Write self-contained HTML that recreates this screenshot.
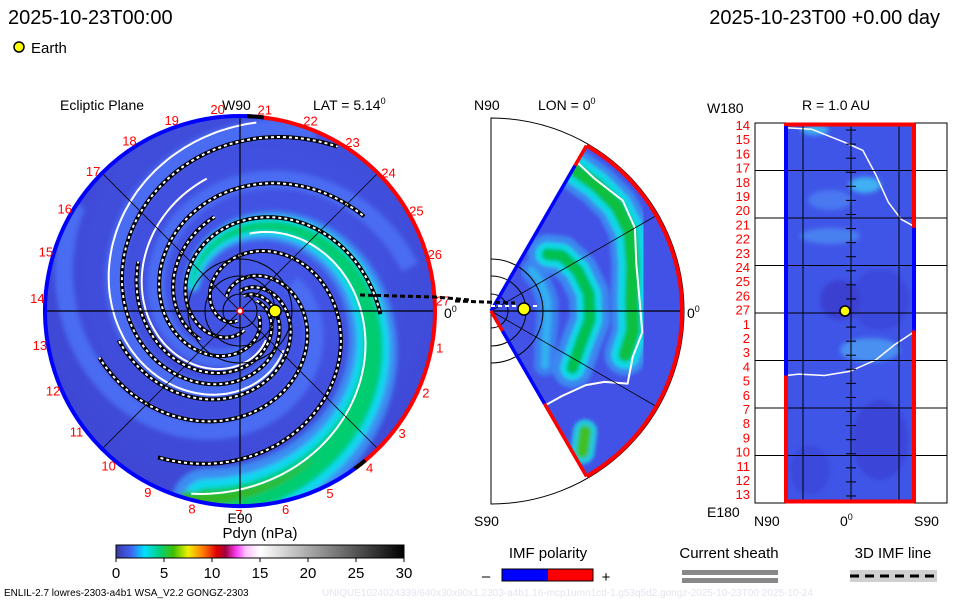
<!DOCTYPE html>
<html><head><meta charset="utf-8"><style>
html,body{margin:0;padding:0;background:#fff}
svg{display:block}
text{font-family:"Liberation Sans",sans-serif}
</style></head><body>
<svg id="s" width="960" height="600" viewBox="0 0 960 600" xmlns="http://www.w3.org/2000/svg">
<defs>
<clipPath id="diskClip"><circle cx="240" cy="311" r="195"/></clipPath>
<clipPath id="wedgeClip"><path d="M491,311 L586.5,145.6 A191,191 0 0 1 586.5,476.4 Z"/></clipPath>
<filter id="bl" x="-10%" y="-10%" width="120%" height="120%"><feGaussianBlur stdDeviation="2.5"/></filter>
<filter id="bl2" x="-10%" y="-10%" width="120%" height="120%"><feGaussianBlur stdDeviation="1.8"/></filter>
<linearGradient id="cbar" x1="0" x2="1" y1="0" y2="0">
<stop offset="0" stop-color="#3a3aa0"/><stop offset="0.05" stop-color="#4060f0"/><stop offset="0.1" stop-color="#00e0ff"/>
<stop offset="0.15" stop-color="#00d080"/><stop offset="0.2" stop-color="#40c000"/><stop offset="0.25" stop-color="#f0f000"/>
<stop offset="0.3" stop-color="#ff8000"/><stop offset="0.35" stop-color="#e00000"/><stop offset="0.38" stop-color="#a00040"/>
<stop offset="0.42" stop-color="#ff40ff"/><stop offset="0.45" stop-color="#ffc0ff"/><stop offset="0.5" stop-color="#ffffff"/>
<stop offset="1" stop-color="#000000"/></linearGradient>
<radialGradient id="diskBg" cx="0.55" cy="0.4" r="0.7"><stop offset="0" stop-color="#4458ea"/><stop offset="1" stop-color="#3d45d0"/></radialGradient>
</defs>

<text x="8" y="24" font-size="20">2025-10-23T00:00</text>
<text x="940" y="24" font-size="20" text-anchor="end">2025-10-23T00 +0.00 day</text>
<circle cx="19" cy="47" r="5" fill="#ffff00" stroke="#000" stroke-width="1.5"/>
<text x="31" y="53" font-size="15">Earth</text>

<text x="60" y="110" font-size="14">Ecliptic Plane</text>
<text x="222" y="110" font-size="14">W90</text>
<text x="313" y="110" font-size="14">LAT = 5.14<tspan font-size="9" dy="-6">0</tspan></text>
<text x="474" y="110" font-size="14">N90</text>
<text x="538" y="110" font-size="14">LON = 0<tspan font-size="9" dy="-6">0</tspan></text>
<text x="707" y="113" font-size="14">W180</text>
<text x="802" y="110" font-size="14">R = 1.0 AU</text>

<g id="disk">
<circle cx="240" cy="311" r="195" fill="url(#diskBg)"/>
<g id="diskBands" clip-path="url(#diskClip)" filter="url(#bl)"></g>
<g id="diskLines" clip-path="url(#diskClip)"></g>
</g>
<g id="wedge"></g>
<g id="rpanel"></g>
<g id="overlay"></g>

<text x="240" y="523" font-size="14" text-anchor="middle">E90</text>
<text x="474" y="526" font-size="14">S90</text>
<text x="707" y="517" font-size="14">E180</text>
<text x="754" y="526" font-size="14">N90</text>
<text x="840" y="526" font-size="14">0<tspan font-size="9" dy="-6">0</tspan></text>
<text x="914" y="526" font-size="14">S90</text>
<text x="444" y="318" font-size="14">0<tspan font-size="9" dy="-6">0</tspan></text>
<text x="687" y="318" font-size="14">0<tspan font-size="9" dy="-6">0</tspan></text>

<text x="260" y="538" font-size="15" text-anchor="middle">Pdyn (nPa)</text>
<rect x="116" y="545" width="288" height="13" fill="url(#cbar)" stroke="#000" stroke-width="1"/>
<g id="cbticks"></g>

<text x="548" y="558" font-size="15" text-anchor="middle">IMF polarity</text>
<text x="486" y="581" font-size="15" text-anchor="middle">–</text>
<rect x="502" y="569" width="46" height="12" fill="#0000ff"/>
<rect x="548" y="569" width="45" height="12" fill="#ff0000"/>
<rect x="502" y="569" width="91" height="12" fill="none" stroke="#000" stroke-width="1"/>
<text x="606" y="582" font-size="15" text-anchor="middle">+</text>
<text x="729" y="558" font-size="15" text-anchor="middle">Current sheath</text>
<rect x="682" y="570" width="96" height="5" fill="#888"/>
<rect x="682" y="578" width="96" height="5" fill="#888"/>
<text x="893" y="558" font-size="15" text-anchor="middle">3D IMF line</text>
<rect x="850" y="570" width="87" height="12" fill="#d0d0d0"/>
<line x1="850" y1="576" x2="937" y2="576" stroke="#000" stroke-width="3" stroke-dasharray="9,6"/>

<text x="4" y="596" font-size="10">ENLIL-2.7 lowres-2303-a4b1 WSA_V2.2 GONGZ-2303</text>
<text x="322" y="596" font-size="10" fill="#e4e4ee">UNIQUE1024024339/640x30x90x1.2303-a4b1.16-mcp1umn1cd-1.g53q5d2.gongz-2025-10-23T00   2025-10-24</text>
</svg>
<script>
// ---- data ----
const cbTicks = [0,5,10,15,20,25,30];
const rimLabels = [14,15,16,17,18,19,20,21,22,23,24,25,26,27,1,2,3,4,5,6,7,8,9,10,11,12,13];
const rimLabel27Angle = -3;
const rimStep = 360/27;
const imfArms = [[133,0.08,0.98],[206,0.1,0.80],[269,0.1,0.72],[57,0.1,0.76],[-15,0.05,0.86],[160,0.1,0.58],[100,0.1,0.64],[238,0.25,0.5]];
const sheathArms = [[110,0.3,0.97],[-60,0.4,0.97],[170,0.2,0.7]];
const greenArm = [-73,0.28,1.0];
const lightArms = [[120,0.3,1.0],[40,0.3,1.0],[200,0.2,0.9]];
const earthRho = 0.18;
const wedgeGreenA = [[-59,0.86],[-50,0.86],[-40,0.86],[-30,0.84],[-18,0.78],[-5,0.74],[8,0.75],[18,0.74]];
const wedgeGreenB = [[-45,0.42],[-38,0.47],[-25,0.5],[-10,0.52],[5,0.52],[20,0.5],[35,0.52]];
const wedgeCyanC = [[-45,0.3],[-30,0.3],[-10,0.3],[10,0.3],[30,0.33],[45,0.4]];
const wedgeSheath = [[-60,0.9],[-52,0.88],[-40,0.9],[-30,0.87],[-18,0.8],[-5,0.78],[8,0.8],[18,0.78],[28,0.81],[32,0.7],[38,0.63],[50,0.58],[60,0.57]];
const wedgeBlob = [[52,0.8],[57,0.88]];
const rpSheathTop = [[0,0.2],[0.2,0.3],[0.45,1.2],[0.6,1.8],[0.7,3.5],[0.8,5.5],[0.9,6.7],[1,7.2]];
const rpSheathBot = [[0,17.8],[0.1,17.7],[0.3,17.8],[0.5,17.5],[0.7,16.7],[0.85,15.6],[1,14.7]];
const rpRightBlue = [7.3,14.6];
const rpLeftBlue = [0,17.8];

const NS='http://www.w3.org/2000/svg';
function mk(tag, attrs, parent){const e=document.createElementNS(NS,tag);for(const k in attrs)e.setAttribute(k,attrs[k]);parent.appendChild(e);return e;}
const CX=240, CY=311, R=195;
function spiralPts(t0,r0,r1){const p=[];for(let r=r0;r<=r1+1e-9;r+=0.005){const th=(t0+533*Math.sqrt(r))*Math.PI/180;p.push([CX+R*r*Math.cos(th),CY+R*r*Math.sin(th)]);}return p;}
function pd(p){return 'M'+p.map(q=>q[0].toFixed(1)+','+q[1].toFixed(1)).join(' L');}

const bands=document.getElementById('diskBands');
lightArms.forEach(a=>{
  const p=mk('path',{d:pd(spiralPts(a[0],a[1],a[2])),fill:'none',stroke:'#4a6cf2','stroke-width':18},bands);
  
  
});
function varBand(arm,color,w0,w1,name){
  const pts=spiralPts(arm[0],arm[1],arm[2]);
  for(let i=0;i<pts.length-1;i++){
    const rho=arm[1]+(arm[2]-arm[1])*i/(pts.length-1);
    const w=w0+(w1-w0)*(rho-arm[1])/(arm[2]-arm[1]);
    const l=mk('line',{x1:pts[i][0],y1:pts[i][1],x2:pts[i+1][0],y2:pts[i+1][1],stroke:color,'stroke-width':w,'stroke-linecap':'round'},bands);
    
    
  }
}
varBand(greenArm,'#3c8cf2',16,70,'density-band-outer');
varBand(greenArm,'#10d8f0',10,48,'density-band-cyan');
varBand(greenArm,'#00cc70',3,30,'density-band-green');
varBand([greenArm[0]+6,0.85,1.0],'#30b820',2,14,'density-band-peak');

const dl=document.getElementById('diskLines');
sheathArms.forEach(a=>{
  const p=mk('path',{d:pd(spiralPts(a[0],a[1],a[2])),fill:'none',stroke:'#fff','stroke-width':2},dl);
  
  
});
imfArms.forEach(a=>{
  const d=pd(spiralPts(a[0],a[1],a[2]));
  const p=mk('path',{d:d,fill:'none',stroke:'#000','stroke-width':4},dl);
  
  
  mk('path',{d:d,fill:'none',stroke:'#fff','stroke-width':2,'stroke-dasharray':'3,3'},dl);
});
[[CX-R,CY,CX+R,CY,1.2],[CX,CY-R,CX,CY+R,1.2]].forEach(g=>{
  const l=mk('line',{x1:g[0],y1:g[1],x2:g[2],y2:g[3],stroke:'#000','stroke-width':g[4]},dl);
  
  
});
[45,135].forEach(a=>{const t=a*Math.PI/180;
  const l=mk('line',{x1:CX-R*Math.cos(t),y1:CY-R*Math.sin(t),x2:CX+R*Math.cos(t),y2:CY+R*Math.sin(t),stroke:'#000','stroke-width':0.8},dl);
  
  
});
[17,35,52].forEach(r=>{
  const c=mk('circle',{cx:CX,cy:CY,r:r,fill:'none',stroke:'#000','stroke-width':1},dl);
  
  
});
function arc(cx,cy,r,a0,a1){const t0=a0*Math.PI/180,t1=a1*Math.PI/180;const large=((a1-a0+360)%360)>180?1:0;
  return 'M'+(cx+r*Math.cos(t0))+','+(cy+r*Math.sin(t0))+' A'+r+','+r+' 0 '+large+' 1 '+(cx+r*Math.cos(t1))+','+(cy+r*Math.sin(t1));}
const ov=document.getElementById('overlay');
let e=mk('path',{d:arc(CX,CY,R,-83,53),fill:'none',stroke:'#ff0000','stroke-width':4},ov);


e=mk('path',{d:arc(CX,CY,R,53,277),fill:'none',stroke:'#0000ff','stroke-width':4},ov);


mk('path',{d:arc(CX,CY,R,-88,-83),fill:'none',stroke:'#000','stroke-width':4},ov);
mk('path',{d:arc(CX,CY,R,50,54),fill:'none',stroke:'#000','stroke-width':4},ov);
rimLabels.forEach((v,i)=>{
  const a=(rimLabel27Angle+(i-13)*rimStep)*Math.PI/180;
  const t=mk('text',{x:CX+203*Math.cos(a),y:CY+203*Math.sin(a)+5,'font-size':13,fill:'#ff0000','text-anchor':'middle'},ov);
  t.textContent=v;
  
  
});
e=mk('circle',{cx:CX,cy:CY,r:3,fill:'#fff',stroke:'#f00','stroke-width':1.5},ov);


e=mk('circle',{cx:CX+R*earthRho,cy:CY,r:6,fill:'#ffff00',stroke:'#000','stroke-width':1.5},ov);



const WX=491, WY=311, WR=191;
const wg=document.getElementById('wedge');
mk('path',{d:'M'+WX+','+(WY-193)+' A193,193 0 0 1 '+WX+','+(WY+193)+' Z',fill:'none',stroke:'#000','stroke-width':1},wg);
mk('path',{d:'M491,311 L586.5,145.6 A191,191 0 0 1 586.5,476.4 Z',fill:'#4352e6'},wg);
const wb=mk('g',{'clip-path':'url(#wedgeClip)'},wg);
const wbb=mk('g',{filter:'url(#bl2)'},wb);
function wpts(arr){return arr.map(q=>{const t=q[0]*Math.PI/180;return [WX+WR*q[1]*Math.cos(t),WY+WR*q[1]*Math.sin(t)];});}
function wline(arr,color,w,name,parent){const p=mk('path',{d:pd(wpts(arr)),fill:'none',stroke:color,'stroke-width':w,'stroke-linecap':'round','stroke-linejoin':'round'},parent);
  
  return p;}
wline(wedgeCyanC,'#3a80f0',22,'wedge-band-light',wbb);
wline(wedgeCyanC,'#30b0f0',8,'wedge-band-cyan',wbb);
wline(wedgeGreenB,'#3a88f0',40,'wedge-band-light',wbb);
wline(wedgeGreenB,'#10d8e8',24,'wedge-band-cyan',wbb);
wline(wedgeGreenB,'#00c050',12,'wedge-band-green',wbb);
wline(wedgeGreenA,'#3a88f0',42,'wedge-band-light',wbb);
wline(wedgeGreenA,'#10d8e8',28,'wedge-band-cyan',wbb);
wline(wedgeGreenA,'#10c040',14,'wedge-band-green',wbb);
wline(wedgeBlob,'#20c8e0',24,'wedge-blob-cyan',wbb);
wline(wedgeBlob,'#40c020',12,'wedge-blob-green',wbb);
wline(wedgeSheath,'#fff',2,'wedge-current-sheath',wb);
[-30,0,30].forEach(a=>{const t=a*Math.PI/180;
  const l=mk('line',{x1:WX,y1:WY,x2:WX+WR*Math.cos(t),y2:WY+WR*Math.sin(t),stroke:'#000','stroke-width':a==0?1.2:0.8},wb);
  
  
});
[17,35,52].forEach(r=>{mk('path',{d:'M'+WX+','+(WY-r)+' A'+r+','+r+' 0 0 1 '+WX+','+(WY+r),fill:'none',stroke:'#000','stroke-width':1},wg);});
mk('line',{x1:WX,y1:WY-193,x2:WX,y2:WY+193,stroke:'#000','stroke-width':1},wg);
e=mk('path',{d:arc(WX,WY,WR,-60,60),fill:'none',stroke:'#f00','stroke-width':4},wg);


function seg(a,r0,r1,c){const t=a*Math.PI/180;return mk('line',{x1:WX+WR*r0*Math.cos(t),y1:WY+WR*r0*Math.sin(t),x2:WX+WR*r1*Math.cos(t),y2:WY+WR*r1*Math.sin(t),stroke:c,'stroke-width':3.5},wg);}
seg(-60,0,0.88,'#0000ff');seg(-60,0.88,1,'#ff0000');seg(60,0.12,0.56,'#0000ff');seg(60,0.56,1,'#ff0000');seg(60,0,0.12,'#ff0000');
mk('line',{x1:455,y1:301,x2:515,y2:303,stroke:'#000','stroke-width':3,'stroke-dasharray':'5,3'},wg);
mk('line',{x1:491,y1:306,x2:540,y2:306,stroke:'#fff','stroke-width':2,'stroke-dasharray':'4,3'},wg);
e=mk('circle',{cx:524,cy:309,r:6,fill:'#ffff00',stroke:'#000','stroke-width':1.5},wg);


mk('path',{d:'M360,295 L435,297 L470,300',fill:'none',stroke:'#000','stroke-width':3,'stroke-dasharray':'5,3'},ov);

const rp=document.getElementById('rpanel');
const BX0=755,BX1=947,BY0=123,BY1=503,IX0=786,IX1=914;
const rowH=(BY1-BY0)/27;
mk('rect',{x:BX0,y:BY0,width:BX1-BX0,height:BY1-BY0,fill:'#fff',stroke:'#000','stroke-width':1},rp);
mk('rect',{x:IX0,y:BY0,width:IX1-IX0,height:BY1-BY0,fill:'#3f55e8'},rp);
const rpb=mk('g',{filter:'url(#bl)'},rp);
[[815,130,14,5,'#3fb0f2'],[865,185,16,8,'#3fb0f2'],[830,200,22,10,'#4a78f0'],[830,236,30,8,'#4a80f0'],[870,350,30,12,'#4a90f0'],[880,300,30,30,'#3b48dc'],[880,440,28,40,'#3b45d8'],[810,470,20,25,'#3b48dc'],[840,300,20,20,'#3a40d0']].forEach(b=>{
  const el=mk('ellipse',{cx:b[0],cy:b[1],rx:b[2],ry:b[3],fill:b[4]},rpb);
  
  
});
function rpPath(arr){return pd(arr.map(q=>[IX0+q[0]*(IX1-IX0),BY0+q[1]*rowH+2]));}
e=mk('path',{d:rpPath(rpSheathTop),fill:'none',stroke:'#fff','stroke-width':1.5},rp);


e=mk('path',{d:rpPath(rpSheathBot),fill:'none',stroke:'#fff','stroke-width':1.5},rp);


for(let i=1;i<8;i++){const y=BY0+i*3.375*rowH;
  const l=mk('line',{x1:BX0,y1:y,x2:BX1,y2:y,stroke:'#000','stroke-width':1},rp);
  
  }
[803,851,899].forEach(x=>{const l=mk('line',{x1:x,y1:BY0,x2:x,y2:BY1,stroke:'#000','stroke-width':1},rp);
  
  });
for(let i=0;i<27;i++){mk('line',{x1:846,y1:BY0+(i+0.5)*rowH,x2:856,y2:BY0+(i+0.5)*rowH,stroke:'#000','stroke-width':1},rp);}
mk('line',{x1:IX0,y1:BY0+1.5,x2:IX1,y2:BY0+1.5,stroke:'#f00','stroke-width':4},rp);
mk('line',{x1:IX0,y1:BY1-1.5,x2:IX1,y2:BY1-1.5,stroke:'#f00','stroke-width':4},rp);
mk('line',{x1:IX0,y1:BY0,x2:IX0,y2:BY1,stroke:'#f00','stroke-width':4},rp);
mk('line',{x1:IX0,y1:BY0+rpLeftBlue[0]*rowH+3,x2:IX0,y2:BY0+rpLeftBlue[1]*rowH+2,stroke:'#00f','stroke-width':4},rp);
mk('line',{x1:IX1,y1:BY0,x2:IX1,y2:BY1,stroke:'#f00','stroke-width':4},rp);
mk('line',{x1:IX1,y1:BY0+rpRightBlue[0]*rowH+2,x2:IX1,y2:BY0+rpRightBlue[1]*rowH+2,stroke:'#00f','stroke-width':4},rp);
e=mk('circle',{cx:845,cy:311,r:5,fill:'#ffff00',stroke:'#000','stroke-width':1.5},rp);


rimLabels.forEach((v,i)=>{
  const t=mk('text',{x:750,y:BY0+i*14.2+7,'font-size':13,fill:'#ff0000','text-anchor':'end'},rp);
  t.textContent=v;
  
  
});

const cb=document.getElementById('cbticks');
cbTicks.forEach(v=>{const x=116+v/30*288;
  mk('line',{x1:x,y1:558,x2:x,y2:562,stroke:'#000'},cb);
  const t=mk('text',{x:x,y:578,'font-size':15,'text-anchor':'middle'},cb);
  t.textContent=v;
  
  
});
</script>
</body></html>
